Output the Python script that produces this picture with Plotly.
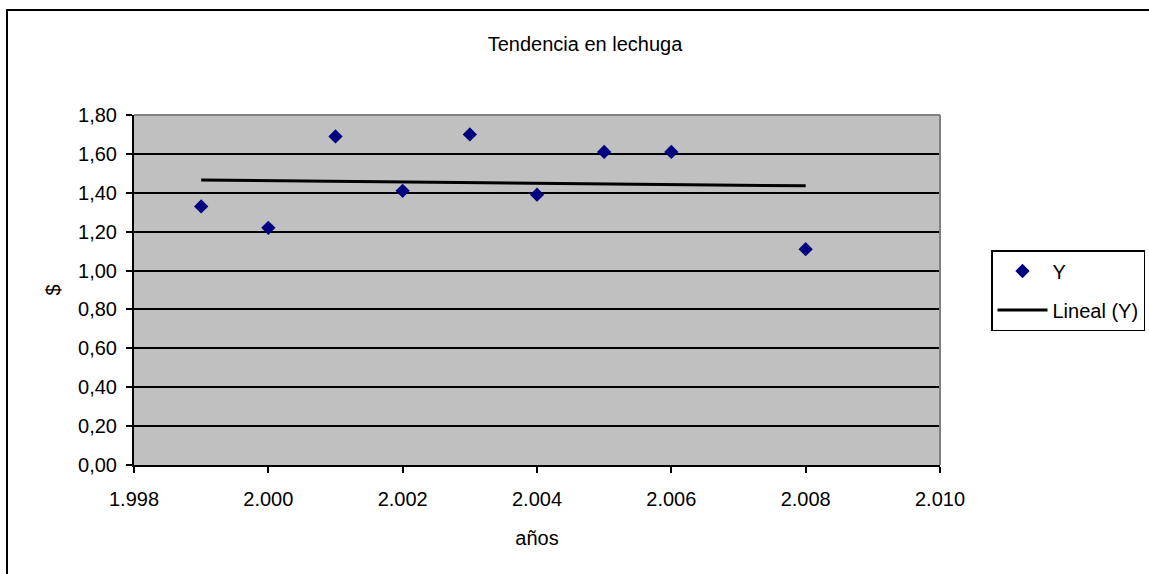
import numpy as np
import plotly.graph_objects as go

years = [1999, 2000, 2001, 2002, 2003, 2004, 2005, 2006, 2008]
prices = [1.33, 1.22, 1.69, 1.41, 1.70, 1.39, 1.61, 1.61, 1.11]

title_text = "Tendencia en lechuga"
x_title = "años"
y_title = "$"

# linear trend (Excel "Lineal (Y)")
coef = np.polyfit(years, prices, 1)
trend_x = [years[0], years[-1]]
trend_y = list(np.polyval(coef, trend_x))

FS = 20
font = dict(family="Liberation Sans, Arial, sans-serif", size=FS, color="black")

fig = go.Figure()
fig.add_trace(go.Scatter(
    x=years, y=prices, mode="markers", name="Y", legendgroup="a",
    marker=dict(symbol="diamond", size=11, color="#000080",
                line=dict(width=0)),
    cliponaxis=False,
))
fig.add_trace(go.Scatter(
    x=trend_x, y=trend_y, mode="lines", name="Lineal (Y)", legendgroup="b",
    line=dict(color="black", width=3),
))

fig.update_layout(
    width=1149, height=574,
    margin=dict(l=134, r=209, t=115, b=109, autoexpand=False),
    paper_bgcolor="white",
    plot_bgcolor="#C0C0C0",
    font=font,
    separators=",.",
    title=dict(text=title_text, x=585 / 1149, xanchor="center",
               y=1 - 44 / 574, yanchor="middle", font=dict(size=FS)),
    xaxis=dict(
        range=[1998, 2010], dtick=2, tick0=1998, tickformat=",.0f",
        showgrid=False, zeroline=False,
        showline=True, linecolor="black", linewidth=2,
        ticks="outside", ticklen=6, tickwidth=2, tickcolor="black",
        ticklabelstandoff=9,
        title=dict(text=x_title, standoff=22, font=dict(size=FS)),
    ),
    yaxis=dict(
        range=[0, 1.8], dtick=0.2, tickformat=".2f",
        showgrid=True, gridcolor="black", gridwidth=1.8, zeroline=False,
        showline=True, linecolor="black", linewidth=2,
        ticks="outside", ticklen=6, tickwidth=2, tickcolor="black",
        ticklabelstandoff=5,
        title=dict(text=y_title, standoff=12, font=dict(size=FS)),
    ),
    legend=dict(
        x=(991 - 134) / 806, y=(465 - 250) / 350, xanchor="left", yanchor="top",
        bordercolor="black", borderwidth=1.5, bgcolor="white",
        font=dict(size=FS), itemwidth=50, tracegroupgap=10,
        traceorder="grouped",
    ),
    showlegend=True,
)

# plot-area top/right border in gray
fig.add_shape(type="line", xref="paper", yref="paper", x0=0, x1=1, y0=1, y1=1,
              line=dict(color="#808080", width=2))
fig.add_shape(type="line", xref="paper", yref="paper", x0=1, x1=1, y0=0, y1=1,
              line=dict(color="#808080", width=2))
# outer chart frame
fig.add_shape(type="rect", xref="paper", yref="paper",
              x0=(7 - 134) / 806, x1=(1160 - 134) / 806,
              y0=(465 - 590) / 350, y1=(465 - 10) / 350,
              line=dict(color="black", width=2), layer="below")

fig.write_html("out.html")
